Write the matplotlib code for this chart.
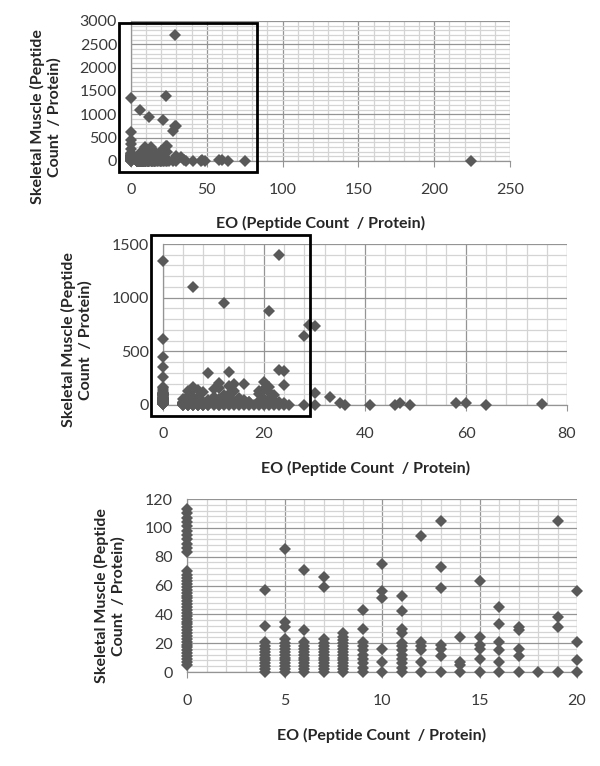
import numpy as np
import matplotlib
matplotlib.use("Agg")
import matplotlib.pyplot as plt
from matplotlib.patches import Rectangle, ConnectionPatch
from matplotlib.ticker import MultipleLocator

plt.rcParams['font.family'] = ['Lato', 'DejaVu Sans']

# ---- data: EO peptide count (x) -> list of skeletal muscle peptide counts (y)
eo_0 = [5, 7, 9, 11, 13, 15, 17, 19, 21, 23, 25, 27, 29, 31, 33, 35, 37, 39, 41, 43, 45,
        47, 49, 51, 53, 55, 57, 59, 61, 63, 65, 67, 70, 83, 86, 89, 92, 95, 98, 101, 104,
        107, 110, 113, 125, 140, 155, 170, 262, 357, 450, 615, 1345]
eo_4 = [0, 2, 4, 6, 8, 10, 12, 14, 16, 18, 21, 32, 57]
eo_5 = [0, 2, 4, 6, 8, 10, 12, 14, 16, 18, 20, 23, 31, 35, 85, 130]
eo_6 = [0, 2, 4, 6, 8, 10, 12, 14, 16, 18, 21, 29, 71, 150, 171, 1100]
eo_7 = [0, 2, 4, 6, 8, 10, 12, 14, 16, 18, 20, 23, 59, 66, 140]
eo_8 = [0, 2, 4, 6, 8, 10, 12, 14, 16, 18, 20, 22, 24, 27, 125]
eo_9 = [0, 3, 6, 9, 12, 15, 18, 21, 30, 43, 300]
eo_10 = [0, 7, 16, 51, 56, 75, 146]
eo_11 = [0, 3, 6, 9, 12, 15, 18, 20, 27, 30, 42, 53, 160, 202]
eo_12 = [0, 7, 15, 18, 21, 94, 950]
eo_13 = [0, 11, 16, 19, 58, 73, 105, 175, 310]
eo_14 = [0, 5, 7, 24, 130, 200]
eo_15 = [0, 9, 16, 19, 24, 63]
eo_16 = [0, 7, 15, 21, 33, 45, 195]
eo_17 = [0, 11, 16, 29, 31]
eo_18 = [0]
eo_19 = [0, 31, 38, 105, 130]
eo_20 = [0, 8, 21, 56, 150, 215]
eo_21 = [0, 20, 60, 120, 172, 875]
eo_22 = [0, 15, 40, 90]
eo_23 = [0, 30, 330, 1400]
eo_24 = [0, 20, 185, 320]
eo_25 = [0]
eo_28 = [0, 643]
eo_29 = [745, 2690]
eo_30 = [0, 109, 740]
sparse_x = [33, 35, 36, 41, 46, 47, 49, 58, 60, 64, 75, 224]
sparse_y = [78, 16, 0, 0, 0, 20, 0, 20, 15, 0, 5, 0]

columns = {0: eo_0, 4: eo_4, 5: eo_5, 6: eo_6, 7: eo_7, 8: eo_8, 9: eo_9, 10: eo_10,
           11: eo_11, 12: eo_12, 13: eo_13, 14: eo_14, 15: eo_15, 16: eo_16, 17: eo_17,
           18: eo_18, 19: eo_19, 20: eo_20, 21: eo_21, 22: eo_22, 23: eo_23, 24: eo_24,
           25: eo_25, 28: eo_28, 29: eo_29, 30: eo_30}
xs, ys = [], []
for k, vals in columns.items():
    xs += [k] * len(vals)
    ys += vals
xs += sparse_x
ys += sparse_y
X = np.array(xs, float)
Y = np.array(ys, float)

# panel settings
x_ticks_top = [0, 50, 100, 150, 200, 250]
y_ticks_top = [0, 500, 1000, 1500, 2000, 2500, 3000]
x_ticks_mid = [0, 20, 40, 60, 80]
y_ticks_mid = [0, 500, 1000, 1500]
x_ticks_bot = [0, 5, 10, 15, 20]
y_ticks_bot = [0, 20, 40, 60, 80, 100, 120]

W, H = 600, 766
fig = plt.figure(figsize=(6, 7.66), dpi=100)

def px_axes(l, t, r, b):
    return fig.add_axes([l / W, 1 - b / H, (r - l) / W, (b - t) / H])

MARK = '#595959'
MAJ = '#949494'
MIN = '#d4d4d4'
TXT = '#3a3a3a'
TICK_FS = 11.5
LAB_FS = 11.5

def setup(ax, xt, yt, xminor, yminor):
    ax.set_xlim(xt[0], xt[-1])
    ax.set_ylim(yt[0], yt[-1])
    ax.set_xticks(xt)
    ax.set_yticks(yt)
    ax.xaxis.set_minor_locator(MultipleLocator(xminor))
    ax.yaxis.set_minor_locator(MultipleLocator(yminor))
    ax.grid(which='minor', color=MIN, lw=0.9, zorder=0)
    ax.grid(which='major', color=MAJ, lw=0.9, zorder=0)
    ax.set_axisbelow(True)
    for s in ['top', 'right']:
        ax.spines[s].set_visible(False)
    for s in ['left', 'bottom']:
        ax.spines[s].set_color(MAJ)
        ax.spines[s].set_linewidth(0.9)
    ax.tick_params(axis='x', which='major', direction='out', length=4, color=MAJ,
                   pad=12, labelsize=TICK_FS, labelcolor=TXT)
    ax.tick_params(axis='y', which='major', length=0, pad=10, labelsize=TICK_FS,
                   labelcolor=TXT)
    ax.tick_params(which='minor', length=0)
    m = (X >= xt[0]) & (X <= xt[-1]) & (Y >= yt[0]) & (Y <= yt[-1])
    ax.plot(X[m], Y[m], linestyle='', marker='D', ms=6.4, mew=0, color=MARK,
            clip_on=False, zorder=3)

ax1 = px_axes(131, 21, 510, 161)
setup(ax1, x_ticks_top, y_ticks_top, 10, 100)
ax2 = px_axes(163, 244, 567, 405)
setup(ax2, x_ticks_mid, y_ticks_mid, 4, 100)
ax3 = px_axes(187, 499, 577, 672)
setup(ax3, x_ticks_bot, y_ticks_bot, 1, 4)

xlabel = 'EO (Peptide Count  / Protein)'
ylabel = 'Skeletal Muscle (Peptide\nCount  / Protein)'
for (cx, cy) in [(321, 223), (366, 468), (382, 735)]:
    fig.text(cx / W, 1 - cy / H, xlabel, ha='center', va='center', fontsize=LAB_FS,
             fontweight='bold', color='#262626')
for (cx, cy) in [(46, 117), (77, 340), (110, 596)]:
    fig.text(cx / W, 1 - cy / H, ylabel, ha='center', va='center', fontsize=LAB_FS,
             fontweight='bold', color='#262626', rotation=90, multialignment='center',
             linespacing=1.2)

# zoom boxes (annotation) in data coordinates of the parent panel
zoom_top = (-8, 83, -230, 2965)
zoom_mid = (-2.4, 29.1, -102, 1584)
for ax, (x0, x1, y0, y1), child in [(ax1, zoom_top, ax2), (ax2, zoom_mid, ax3)]:
    ax.add_patch(Rectangle((x0, y0), x1 - x0, y1 - y0, fill=False, ec='black', lw=2.0,
                           clip_on=False, zorder=5))
    for (px_, py_), (cx_, cy_) in [((x0, y0), (-0.03, 1.0)), ((x1, y0), (1.0, 1.0))]:
        con = ConnectionPatch(xyA=(px_, py_), coordsA='data', axesA=ax,
                              xyB=(cx_, cy_), coordsB='axes fraction', axesB=child,
                              color='black', lw=1.2, zorder=6)
        fig.add_artist(con)

fig.savefig('out.png', dpi=100)
